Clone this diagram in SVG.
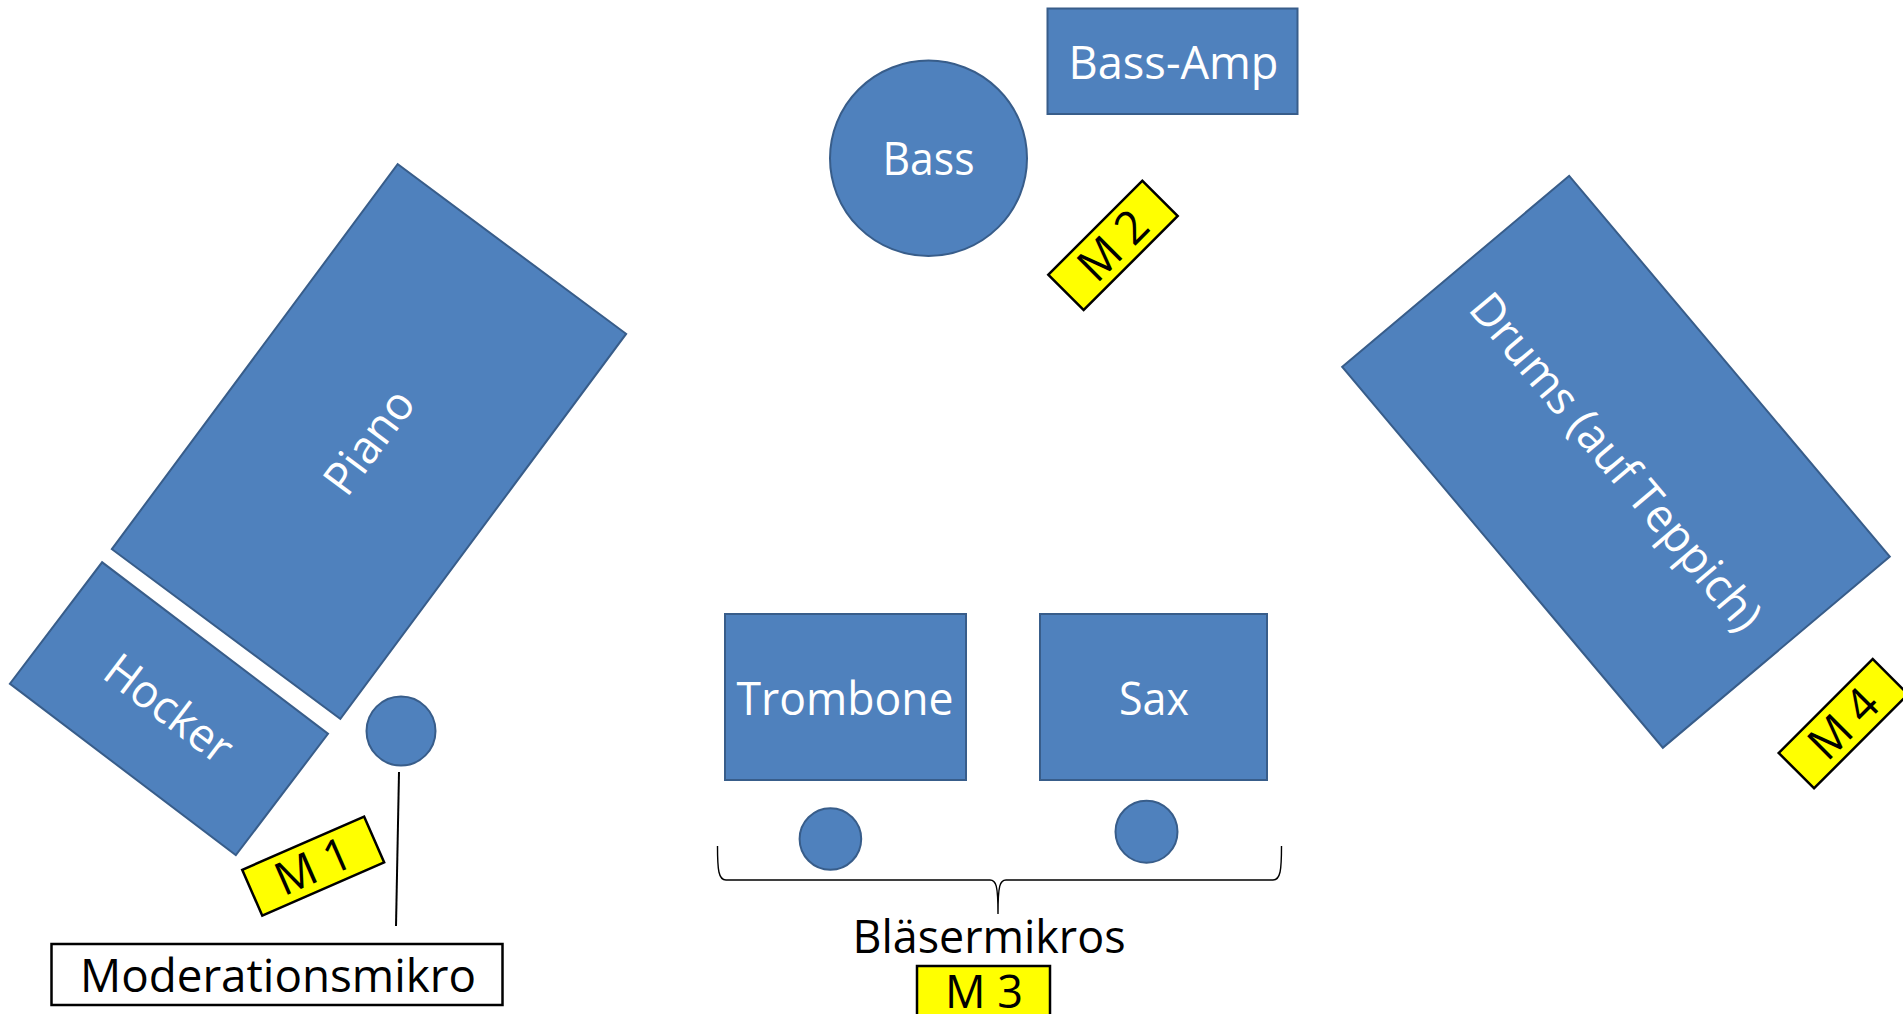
<svg xmlns="http://www.w3.org/2000/svg" width="1903" height="1014" viewBox="0 0 1903 1014">
<style>
.shape{fill:#4F81BD;stroke:#385D8A;stroke-width:2}
.mic{fill:#FFFF00;stroke:#000;stroke-width:2.5}
.box{fill:#fff;stroke:#000;stroke-width:2.5}
.wt{font-family:"Open Sans","Liberation Sans",sans-serif;font-size:46px;fill:#fff;text-anchor:middle}
.bt{font-family:"Open Sans","Liberation Sans",sans-serif;font-size:46px;fill:#000;text-anchor:middle}
.con{fill:none;stroke:#000}
</style>
<rect width="1903" height="1014" fill="#fff"/>
<g id="piano" transform="translate(369,441.5)">
<rect class="shape" x="-142.3" y="-239.7" width="284.6" height="479.4" transform="rotate(36.6)"/>
<text class="wt" x="0" y="16" transform="rotate(-53.4)" textLength="118" lengthAdjust="spacingAndGlyphs">Piano</text>
</g>
<g id="hocker" transform="translate(169,708.7)">
<rect class="shape" x="-141.8" y="-76.2" width="283.6" height="152.5" transform="rotate(37.2)"/>
<text class="wt" x="0" y="16" transform="rotate(37.2)" textLength="148" lengthAdjust="spacingAndGlyphs">Hocker</text>
</g>
<g id="moderationsmikro-mic">
<circle class="shape" cx="401" cy="731" r="34.5"/>
</g>
<g id="m1" transform="translate(313.2,866.1) rotate(-23.6)">
<rect class="mic" x="-66.5" y="-25" width="133" height="50"/>
<text class="bt" x="0" y="16" textLength="78" lengthAdjust="spacingAndGlyphs">M 1</text>
</g>
<g id="moderationsmikro">
<rect class="box" x="51.5" y="944" width="451" height="61"/>
<text class="bt" x="278" y="991.5" textLength="396" lengthAdjust="spacingAndGlyphs">Moderationsmikro</text>
</g>
<g id="bass">
<ellipse class="shape" cx="928.5" cy="158.3" rx="98.5" ry="97.7"/>
<text class="wt" x="928.5" y="175" textLength="92" lengthAdjust="spacingAndGlyphs">Bass</text>
</g>
<g id="bass-amp">
<rect class="shape" x="1047.5" y="8.5" width="250" height="105.5"/>
<text class="wt" x="1173.5" y="79" textLength="210" lengthAdjust="spacingAndGlyphs">Bass-Amp</text>
</g>
<g id="m2" transform="translate(1113,245.4) rotate(-45)">
<rect class="mic" x="-66.5" y="-25" width="133" height="50"/>
<text class="bt" x="0" y="16" textLength="78" lengthAdjust="spacingAndGlyphs">M 2</text>
</g>
<g id="drums" transform="translate(1616,461.8) rotate(49.9)">
<rect class="shape" x="-248.9" y="-148.35" width="497.8" height="296.7"/>
<text class="wt" x="0" y="16" textLength="425" lengthAdjust="spacingAndGlyphs">Drums (auf Teppich)</text>
</g>
<g id="m4" transform="translate(1843.4,723.6) rotate(-45)">
<rect class="mic" x="-66.5" y="-25" width="133" height="50"/>
<text class="bt" x="0" y="16" textLength="78" lengthAdjust="spacingAndGlyphs">M 4</text>
</g>
<g id="trombone">
<rect class="shape" x="725" y="614" width="241" height="166"/>
<text class="wt" x="845" y="715" textLength="217" lengthAdjust="spacingAndGlyphs">Trombone</text>
</g>
<g id="sax">
<rect class="shape" x="1040" y="614" width="227" height="166"/>
<text class="wt" x="1154" y="715" textLength="70" lengthAdjust="spacingAndGlyphs">Sax</text>
</g>
<g id="trombone-mic">
<circle class="shape" cx="830.4" cy="839" r="30.8"/>
</g>
<g id="sax-mic">
<circle class="shape" cx="1146.5" cy="831.7" r="31"/>
</g>
<g id="blaesermikros">
<text class="bt" x="989" y="952.7" textLength="273" lengthAdjust="spacingAndGlyphs">Bläsermikros</text>
</g>
<g id="m3">
<rect class="mic" x="917" y="966" width="133" height="50"/>
<text class="bt" x="984" y="1008.3" textLength="78" lengthAdjust="spacingAndGlyphs">M 3</text>
</g>
<g id="connectors">
<line class="con" x1="399" y1="772" x2="396" y2="926" stroke-width="2"/>
<path class="con" stroke-width="1.4" d="M717.5,846 C717.5,870 718.5,880 726,880 L990,880 C996,880 998,885 998,914 C998,885 1000,880 1006,880 L1273,880 C1280.5,880 1281.5,870 1281.5,846"/>
</g>
</svg>
